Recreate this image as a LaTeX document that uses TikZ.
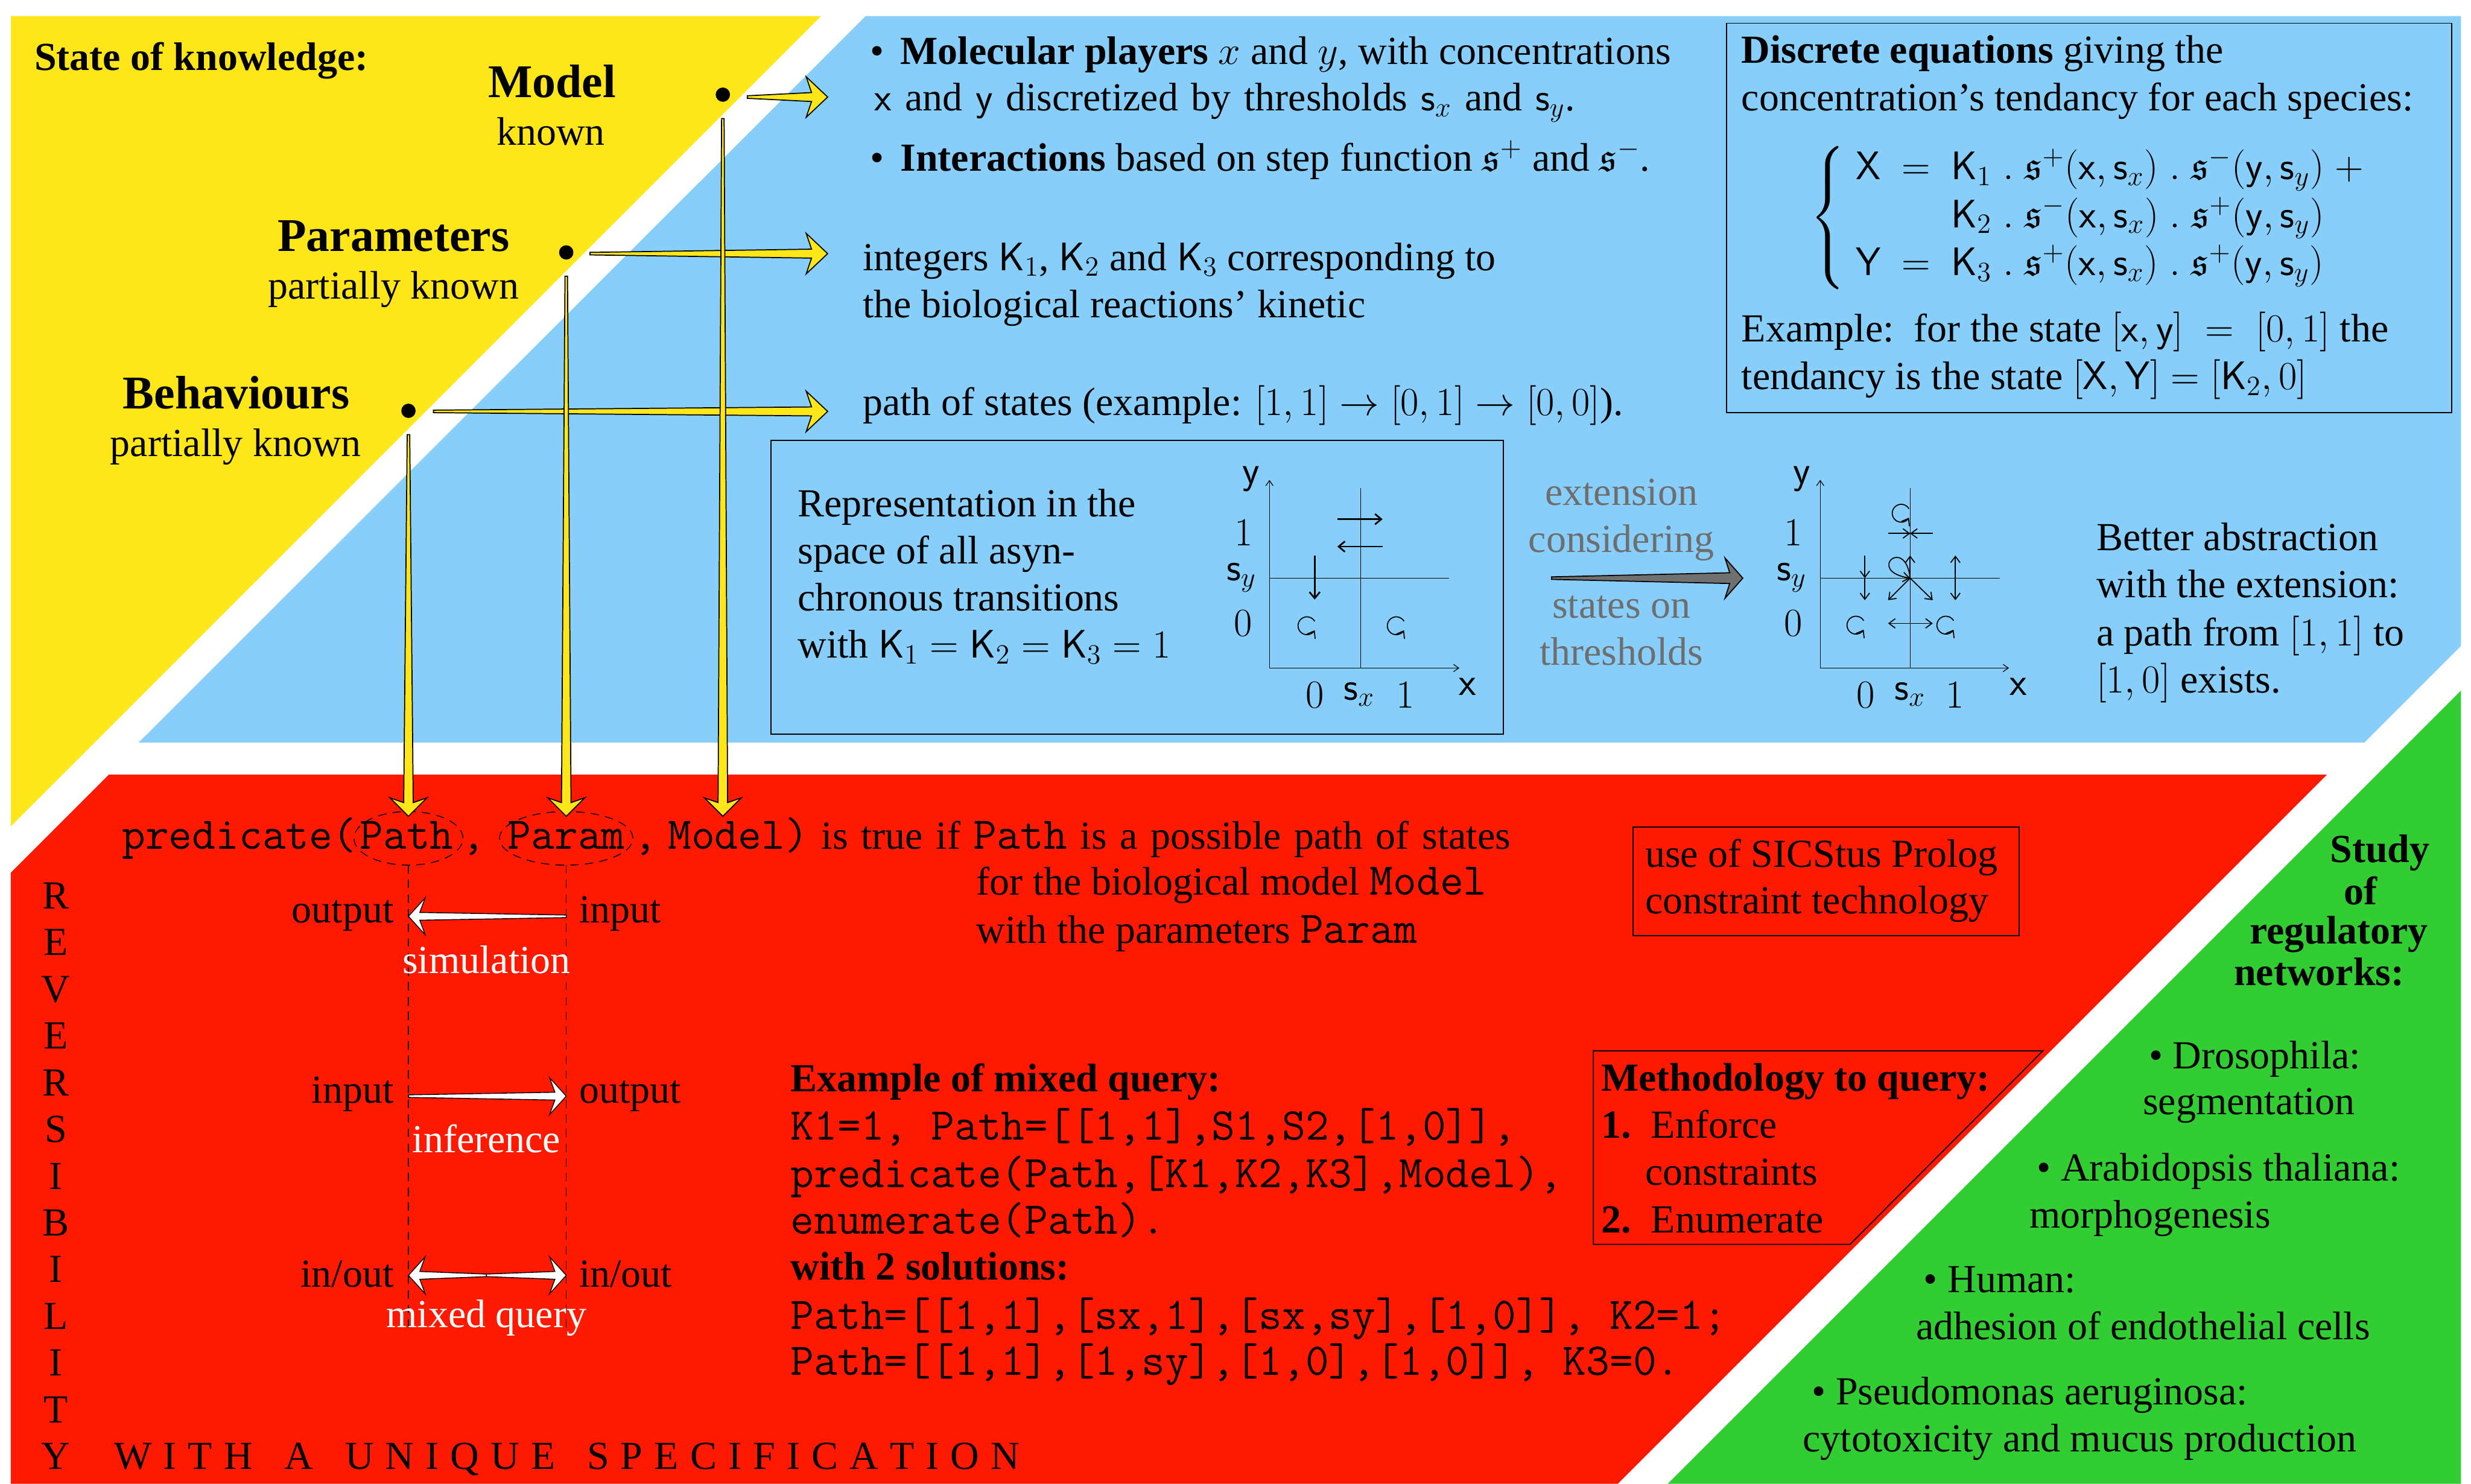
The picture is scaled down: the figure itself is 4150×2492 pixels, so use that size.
\RequirePackage{fix-cm}
\documentclass[tikz,border=0pt]{standalone}
\usepackage{amssymb}
\usepackage{fontspec}
\setmainfont{Liberation Serif}
\usetikzlibrary{calc,arrows.meta,shapes.geometric}
\definecolor{ybg}{RGB}{255,230,25}
\definecolor{bbg}{RGB}{135,206,250}
\definecolor{rbg}{RGB}{255,25,0}
\definecolor{gbg}{RGB}{50,205,50}
\definecolor{gtxt}{RGB}{110,110,110}
\definecolor{garr}{RGB}{112,112,112}
\newcommand{\fbase}{\fontsize{19}{22.8}\selectfont}
\newcommand{\fbig}{\fontsize{22.4}{27}\selectfont}
\newcommand{\mytt}[1]{{\fontsize{21.7}{24}\selectfont\ttfamily #1}}
\newcommand{\wg}{\hspace{0.8em}}
\newcommand{\ltg}{\hspace{0.29em}}
\newcommand{\widesp}{\spaceskip=0.33em plus 0.1em\relax}
% tapered fat arrow: #1 style, #2 tail, #3 tip, #4 head length, #5 junction dist, #6 head half width, #7 shaft half width
\newcommand{\taper}[7]{%
  \coordinate (tpJ) at ($(#3)!#5!(#2)$);
  \coordinate (tpH) at ($(#3)!#4!(#2)$);
  \filldraw[#1] ($(#2)!0.6pt!90:(#3)$) -- ($(tpJ)!#7!90:(#3)$) -- ($(tpH)!#6!90:(#3)$) -- (#3)
     -- ($(tpH)!#6!-90:(#3)$) -- ($(tpJ)!#7!-90:(#3)$) -- ($(#2)!0.6pt!-90:(#3)$) -- cycle;}
\newcommand{\gloop}[1]{\draw[gl] ($(#1)+(13,-7.5)$) arc[start angle=30,end angle=330,radius=0.15cm];}
\begin{document}
\begin{tikzpicture}[x=0.01cm,y=-0.01cm,font=\fbase,
  every node/.style={inner sep=0pt,outer sep=0pt},
  blackdot/.style={circle,fill=black,minimum size=0.24cm},
  boxst/.style={draw=black,line width=0.5pt},
  yarr/.style={fill=ybg,draw=black,line width=0.5pt,line join=miter},
  warr/.style={fill=white,draw=black,line width=0.4pt,line join=miter},
  garrow/.style={fill=garr,draw=black,line width=0.5pt,line join=miter},
  gax/.style={line width=0.35pt},
  gaxa/.style={gax,-{Straight Barb[length=2.5pt,width=3.5pt]}},
  g1a/.style={line width=0.8pt,-{Straight Barb[length=3pt,width=5pt]}},
  g2a/.style={line width=0.5pt,-{Straight Barb[length=3pt,width=4.5pt]}},
  g2d/.style={line width=0.5pt,{Straight Barb[length=3pt,width=4.5pt]}-{Straight Barb[length=3pt,width=4.5pt]}},
  gl/.style={line width=0.5pt,-{Straight Barb[length=3pt,width=4.5pt]}},
  wtxt/.style={text=white},
  dline/.style={dashed,line width=0.4pt,dash pattern=on 4pt off 3pt}]
\useasboundingbox (0,0) rectangle (4150,2492);
\fill[white] (0,0) rectangle (4150,2492);
% ---------------- regions
\fill[ybg] (18,27) -- (1379,27) -- (18,1388) -- cycle;
\fill[bbg] (1454,27) -- (4133,27) -- (4133,1085) -- (3971,1247) -- (233,1247) -- cycle;
\fill[rbg] (183,1301) -- (3908,1301) -- (2717,2492) -- (18,2492) -- (18,1466) -- cycle;
\fill[gbg] (4133,1160) -- (4133,2492) -- (2801,2492) -- cycle;
% ---------------- yellow part
\node[anchor=base west,font=\fbase\bfseries] (sok) at (58,118) {State of knowledge:};
\node[anchor=base,font=\fbig\bfseries] (model) at (927,164) {Model};
\node[anchor=base] (modelk) at (925,244) {known};
\node[anchor=base,font=\fbig\bfseries] (param) at (661,422) {Parameters};
\node[anchor=base] (paramk) at (661,502) {partially known};
\node[anchor=base,font=\fbig\bfseries] (behav) at (397,686) {Behaviours};
\node[anchor=base] (behavk) at (396,766) {partially known};
\node[blackdot] (dm) at (1214,159) {};
\node[blackdot] (dp) at (951,424) {};
\node[blackdot] (db) at (686,690) {};
% ---------------- blue part
\node[anchor=base west] (b1) at (1462,108) {\textbullet\hspace{0.4em}\textbf{Molecular players} $x$ and $y$, with concentrations};
\node[anchor=base west] (b2) at (1469,186) {\widesp$\mathsf{x}$ and $\mathsf{y}$ discretized by thresholds $\mathsf{s}_x$ and $\mathsf{s}_y$.};
\node[anchor=base west] (b3) at (1462,287) {\textbullet\hspace{0.4em}\textbf{Interactions} based on step function $\mathfrak{s}^+$ and $\mathfrak{s}^-$.};
\node[anchor=base west] (p1) at (1449,454) {integers $\mathsf{K}_1$, $\mathsf{K}_2$ and $\mathsf{K}_3$ corresponding to};
\node[anchor=base west] (p2) at (1449,533) {the biological reactions’ kinetic};
\node[anchor=base west] (h1) at (1449,698) {path of states (example: $[1,1]\rightarrow[0,1]\rightarrow[0,0]$).};
% equations box
\node[boxst,anchor=north west,minimum width=12.17cm,minimum height=6.54cm] (eqbox) at (2900,39) {};
\node[anchor=base west] (e1) at (2925,106) {\textbf{Discrete equations} giving the};
\node[anchor=base west] (e2) at (2925,186) {concentration’s tendancy for each species:};
\node[anchor=west] (eqs) at (3040,366) {$\left\{\begin{array}{rcl}
\mathsf{X} & = & \mathsf{K}_1\;.\;\mathfrak{s}^+\bigl(\mathsf{x},\mathsf{s}_x\bigr)\;.\;\mathfrak{s}^-\bigl(\mathsf{y},\mathsf{s}_y\bigr)\;+\\
 & & \mathsf{K}_2\;.\;\mathfrak{s}^-\bigl(\mathsf{x},\mathsf{s}_x\bigr)\;.\;\mathfrak{s}^+\bigl(\mathsf{y},\mathsf{s}_y\bigr)\\
\mathsf{Y} & = & \mathsf{K}_3\;.\;\mathfrak{s}^+\bigl(\mathsf{x},\mathsf{s}_x\bigr)\;.\;\mathfrak{s}^+\bigl(\mathsf{y},\mathsf{s}_y\bigr)
\end{array}\right.$};
\node[anchor=base west] (e3) at (2925,574) {Example:\ \ for the state $[\mathsf{x},\mathsf{y}]\;=\;[0,1]$ the};
\node[anchor=base west] (e4) at (2925,654) {tendancy is the state $[\mathsf{X},\mathsf{Y}]=[\mathsf{K}_2,0]$};
% representation box
\node[boxst,anchor=north west,minimum width=12.29cm,minimum height=4.93cm] (repbox) at (1295,740) {};
\node[anchor=base west] (r1) at (1340,868) {Representation in the};
\node[anchor=base west] (r2) at (1340,947) {space of all asyn-};
\node[anchor=base west] (r3) at (1340,1026) {chronous transitions};
\node[anchor=base west] (r4) at (1340,1105) {with $\mathsf{K}_1=\mathsf{K}_2=\mathsf{K}_3=1$};
% graph 1
\coordinate (g1o) at (2132,1122);
\coordinate (g1x) at (2451,1122);
\coordinate (g1y) at (2132,806);
\coordinate (g1h0) at (2132,971);
\coordinate (g1h1) at (2434,971);
\coordinate (g1v0) at (2285,1122);
\coordinate (g1v1) at (2285,820);
\draw[gaxa] (g1o) -- (g1x);
\draw[gaxa] (g1o) -- (g1y);
\draw[gax] (g1h0) -- (g1h1);
\draw[gax] (g1v0) -- (g1v1);
\node (g1ly) at (2101,804) {$\mathsf{y}$};
\node (g1l1) at (2089,895) {$1$};
\node[anchor=base] (g1lsy) at (2085,975) {$\mathsf{s}_y$};
\node (g1l0) at (2088,1047) {$0$};
\node (g1b0) at (2208,1167) {$0$};
\node[anchor=base] (g1bsx) at (2283,1176) {$\mathsf{s}_x$};
\node (g1b1) at (2360,1167) {$1$};
\node (g1lx) at (2465,1153) {$\mathsf{x}$};
\coordinate (g1a1) at (2246,872); \coordinate (g1a2) at (2322,872);
\coordinate (g1b1c) at (2322,918); \coordinate (g1b2) at (2246,918);
\coordinate (g1c1) at (2208,933); \coordinate (g1c2) at (2208,1007);
\draw[g1a] (g1a1) -- (g1a2);
\draw[g1a] (g1b1c) -- (g1b2);
\draw[g1a] (g1c1) -- (g1c2);
\coordinate (g1L1) at (2195,1051); \coordinate (g1L2) at (2345,1051);
\gloop{g1L1}
\gloop{g1L2}
% gray arrow and text
\coordinate (grT) at (2606,971);
\coordinate (grH) at (2927,971);
\taper{garrow}{grT}{grH}{0.30cm}{0.22cm}{0.34cm}{0.09cm}
\node[anchor=base,text=gtxt] (x1) at (2723,849) {extension};
\node[anchor=base,text=gtxt] (x2) at (2723,928) {considering};
\node[anchor=base,text=gtxt] (x3) at (2723,1038) {states on};
\node[anchor=base,text=gtxt] (x4) at (2723,1117) {thresholds};
% graph 2
\coordinate (g2o) at (3057,1122);
\coordinate (g2x) at (3374,1122);
\coordinate (g2y) at (3057,806);
\coordinate (g2h0) at (3057,971);
\coordinate (g2h1) at (3359,971);
\coordinate (g2v0) at (3208,1122);
\coordinate (g2v1) at (3208,820);
\draw[gaxa] (g2o) -- (g2x);
\draw[gaxa] (g2o) -- (g2y);
\draw[gax] (g2h0) -- (g2h1);
\draw[gax] (g2v0) -- (g2v1);
\node (g2ly) at (3026,804) {$\mathsf{y}$};
\node (g2l1) at (3012,895) {$1$};
\node[anchor=base] (g2lsy) at (3009,975) {$\mathsf{s}_y$};
\node (g2l0) at (3012,1047) {$0$};
\node (g2b0) at (3133,1167) {$0$};
\node[anchor=base] (g2bsx) at (3208,1176) {$\mathsf{s}_x$};
\node (g2b1) at (3283,1167) {$1$};
\node (g2lx) at (3390,1153) {$\mathsf{x}$};
\coordinate (c) at (3208,971);
\coordinate (tl) at (3171,896); \coordinate (tm) at (3208,896); \coordinate (tr) at (3246,896);
\draw[line width=0.5pt] (tl) -- (tr);
\draw[g2a] (tl) -- (tm);
\draw[g2a] (tr) -- (tm);
\coordinate (lc1) at (3132,933); \coordinate (lc2) at (3132,971); \coordinate (lc3) at (3132,1008);
\draw[g2a] (lc1) -- (lc2);
\draw[g2a] (lc2) -- (lc3);
\coordinate (cu) at (3208,933);
\draw[g2a] (c) -- (cu);
\coordinate (dl) at (3171,1008); \coordinate (dr) at (3246,1008);
\draw[g2a] (c) -- (dl);
\draw[g2a] (c) -- (dr);
\draw[g2a] (c) .. controls +(-8,-72) and +(-75,-12) .. (c);
\coordinate (rc1) at (3284,933); \coordinate (rc2) at (3284,1008);
\draw[g2d] (rc1) -- (rc2);
\coordinate (bh1) at (3171,1047); \coordinate (bh2) at (3246,1047);
\draw[g2d] (bh1) -- (bh2);
\coordinate (g2L0) at (3193,862); \coordinate (g2L1) at (3117,1050); \coordinate (g2L2) at (3268,1050);
\gloop{g2L0}
\gloop{g2L1}
\gloop{g2L2}
\node[anchor=base west] (ba1) at (3521,925) {Better abstraction};
\node[anchor=base west] (ba2) at (3521,1004) {with the extension:};
\node[anchor=base west] (ba3) at (3521,1085) {a path from $[1,1]$ to};
\node[anchor=base west] (ba4) at (3521,1164) {$[1,0]$ exists.};
% ---------------- red part
\node[anchor=base west] (pred) at (205,1426) {\mytt{predicate(}};
\node[ellipse,draw,dline,minimum width=1.83cm,minimum height=0.9cm] (epath) at (686,1408) {};
\node[ellipse,draw,dline,minimum width=2.24cm,minimum height=0.9cm] (eparam) at (951,1408) {};
\node[anchor=base] (tpath) at (683,1426) {\mytt{Path}};
\node[anchor=base west] (com1) at (776,1426) {\mytt{,}};
\node[anchor=base] (tparam) at (951,1426) {\mytt{Param}};
\node[anchor=base west] (com2) at (1064,1426) {\mytt{,}};
\node[anchor=base west] (tmodel) at (1122,1426) {\widesp\mytt{Model)} is true if \mytt{Path} is a possible path of states};
\node[anchor=base west] (tl2) at (1640,1503) {for the biological model \mytt{Model}};
\node[anchor=base west] (tl3) at (1640,1584) {with the parameters \mytt{Param}};
\coordinate (dpb) at (686,2240);
\coordinate (dqb) at (951,2240);
\draw[dline] (epath.south) -- (dpb);
\draw[dline] (eparam.south) -- (dqb);
\node[anchor=base east] (o1) at (661,1550) {output};
\node[anchor=base west] (i1) at (973,1550) {input};
\coordinate (simT) at (951,1539); \coordinate (simH) at (686,1539);
\taper{warr}{simT}{simH}{0.28cm}{0.19cm}{0.31cm}{0.065cm}
\node[anchor=base,wtxt] (sim) at (817,1635) {simulation};
\node[anchor=base east] (i2) at (661,1853) {input};
\node[anchor=base west] (o2) at (973,1853) {output};
\coordinate (infT) at (686,1841); \coordinate (infH) at (951,1841);
\taper{warr}{infT}{infH}{0.28cm}{0.19cm}{0.31cm}{0.065cm}
\node[anchor=base,wtxt] (inf) at (817,1936) {inference};
\node[anchor=base east] (io1) at (661,2162) {in/out};
\node[anchor=base west] (io2) at (973,2162) {in/out};
\coordinate (mqC) at (817,2142); \coordinate (mqL) at (686,2142); \coordinate (mqR) at (951,2142);
\taper{warr}{mqC}{mqL}{0.28cm}{0.19cm}{0.31cm}{0.065cm}
\taper{warr}{mqC}{mqR}{0.28cm}{0.19cm}{0.31cm}{0.065cm}
\node[anchor=base,wtxt] (mq) at (817,2230) {mixed query};
\foreach \l [count=\i from 0] in {R,E,V,E,R,S,I,B,I,L,I,T,Y}
  \node[anchor=base] (rev\i) at (94,{1526+78.5*\i}) {\l};
\node[anchor=base west] (uniq) at (192,2468) {W\ltg I\ltg T\ltg H\wg A\wg U\ltg N\ltg I\ltg Q\ltg U\ltg E\wg S\ltg P\ltg E\ltg C\ltg I\ltg F\ltg I\ltg C\ltg A\ltg T\ltg I\ltg O\ltg N};
% example
\node[anchor=base west] (x01) at (1328,1833) {\textbf{Example of mixed query:}};
\node[anchor=base west] (x02) at (1328,1914) {\mytt{K1=1, Path=[[1,1],S1,S2,[1,0]],}};
\node[anchor=base west] (x03) at (1328,1994) {\mytt{predicate(Path,[K1,K2,K3],Model),}};
\node[anchor=base west] (x04) at (1328,2072) {\mytt{enumerate(Path).}};
\node[anchor=base west] (x05) at (1328,2149) {\textbf{with 2 solutions:}};
\node[anchor=base west] (x06) at (1328,2233) {\mytt{Path=[[1,1],[sx,1],[sx,sy],[1,0]], K2=1;}};
\node[anchor=base west] (x07) at (1328,2310) {\mytt{Path=[[1,1],[1,sy],[1,0],[1,0]], K3=0.}};
% SICStus box
\node[boxst,anchor=north west,minimum width=6.48cm,minimum height=1.82cm] (sbox) at (2743,1389) {};
\node[anchor=base west] (s1) at (2763,1456) {use of SICStus Prolog};
\node[anchor=base west] (s2) at (2763,1534) {constraint technology};
% methodology
\draw[line width=0.5pt] (2676,1765) -- (3431,1765) -- (3107,2090) -- (2676,2090) -- cycle;
\node[anchor=base west] (m0) at (2689,1832) {\textbf{Methodology to query:}};
\node[anchor=base west] (m1n) at (2689,1911) {\textbf{1.}};
\node[anchor=base west] (m1) at (2773,1911) {Enforce};
\node[anchor=base west] (m1b) at (2763,1990) {constraints};
\node[anchor=base west] (m2n) at (2689,2070) {\textbf{2.}};
\node[anchor=base west] (m2) at (2773,2070) {Enumerate};
% ---------------- green part
\node[anchor=base,font=\fbase\bfseries] (st1) at (3997,1448) {Study};
\node[anchor=base,font=\fbase\bfseries] (st2) at (3965,1519) {of};
\node[anchor=base,font=\fbase\bfseries] (st3) at (3928,1585) {regulatory};
\node[anchor=base,font=\fbase\bfseries] (st4) at (3895,1655) {networks:};
\node[anchor=base west] (d1) at (3609,1795) {\textbullet\ Drosophila:};
\node[anchor=base west] (d2) at (3599,1872) {segmentation};
\node[anchor=base west] (a1) at (3421,1983) {\textbullet\ Arabidopsis thaliana:};
\node[anchor=base west] (a2) at (3409,2062) {morphogenesis};
\node[anchor=base west] (hu1) at (3231,2171) {\textbullet\ Human:};
\node[anchor=base west] (hu2) at (3218,2250) {adhesion of endothelial cells};
\node[anchor=base west] (ps1) at (3043,2359) {\textbullet\ Pseudomonas aeruginosa:};
\node[anchor=base west] (ps2) at (3028,2438) {cytotoxicity and mucus production};
% ---------------- yellow arrows
\coordinate (tA) at (1255,163); \coordinate (hA) at (1390,163);
\coordinate (tB) at (991,426); \coordinate (hB) at (1390,426);
\coordinate (tC) at (728,691); \coordinate (hC) at (1390,691);
\taper{yarr}{tA}{hA}{0.36cm}{0.27cm}{0.34cm}{0.075cm}
\taper{yarr}{tB}{hB}{0.36cm}{0.27cm}{0.34cm}{0.075cm}
\taper{yarr}{tC}{hC}{0.36cm}{0.27cm}{0.34cm}{0.075cm}
\coordinate (vA) at (1214,199); \coordinate (vAt) at (1214,1371);
\coordinate (vB) at (951,464); \coordinate (vBt) at (951,1371);
\coordinate (vC) at (686,730); \coordinate (vCt) at (686,1371);
\taper{yarr}{vA}{vAt}{0.31cm}{0.23cm}{0.31cm}{0.08cm}
\taper{yarr}{vB}{vBt}{0.31cm}{0.23cm}{0.31cm}{0.08cm}
\taper{yarr}{vC}{vCt}{0.31cm}{0.23cm}{0.31cm}{0.08cm}
\end{tikzpicture}
\end{document}
